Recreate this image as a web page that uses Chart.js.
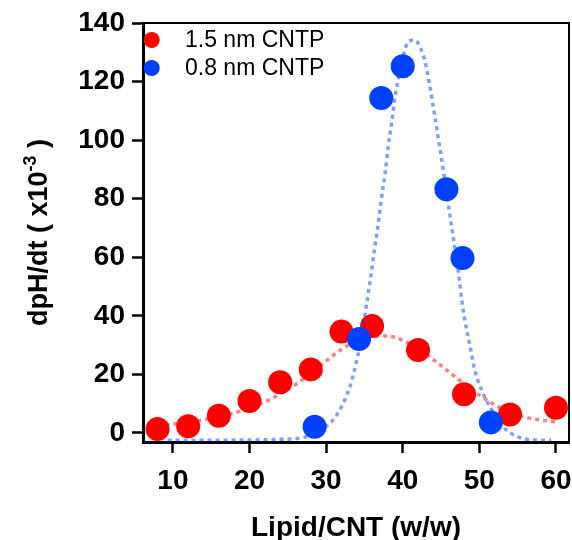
<!DOCTYPE html>
<html>
<head>
<meta charset="utf-8">
<script src="https://cdn.jsdelivr.net/npm/chart.js@4.4.1/dist/chart.umd.min.js"></script>
<style>
  html, body { margin: 0; padding: 0; background: #fff; }
</style>
</head>
<body>
<canvas id="c" width="572" height="540"></canvas>
<script>
// Axis ticks
const xTicks = [10, 20, 30, 40, 50, 60];
const yTicks = [0, 20, 40, 60, 80, 100, 120, 140];

// Series names
const seriesNames = ['1.5 nm CNTP', '0.8 nm CNTP'];

// Measured rates, 1.5 nm CNTP
const ratio15 = [8, 12, 16, 20, 24, 28, 32, 36, 42, 48, 54, 60];
const rate15  = [1.3, 2.3, 5.9, 10.9, 17.3, 21.7, 34.6, 36.5, 28.3, 13.2, 6.3, 8.6];

// Measured rates, 0.8 nm CNTP
const ratio08 = [28.5, 34.3, 37.2, 40.0, 45.7, 47.8, 51.5];
const rate08  = [2.1, 32.1, 114.4, 125.2, 83.2, 59.7, 3.6];

// Fitted curve, 1.5 nm CNTP
const fitX15 = [8, 10, 12, 14, 16, 18, 20, 22, 24, 26, 28, 30, 32, 34, 36, 38, 40, 42, 44, 46, 48, 50, 52, 54, 56, 58, 60];
const fitY15 = [2.6, 3.0, 3.6, 4.5, 5.5, 6.8, 8.4, 10.6, 13.3, 16.5, 20.3, 24.6, 28.5, 31.4, 32.9, 33.1, 31.6, 28.8, 25.0, 20.9, 16.8, 12.9, 9.6, 7.0, 5.4, 4.4, 3.8];

// Fitted curve, 0.8 nm CNTP
const fitX08 = [9.3, 15, 20, 24, 26.6, 28, 29.2, 30.7, 32.0, 33.1, 33.8, 34.5, 35.1, 35.7, 36.25, 36.8, 37.25, 37.7, 38.1, 38.55, 39.0, 39.6, 40.5, 41.0, 41.6, 42.3, 42.9, 43.5, 44.2, 44.8, 45.4, 45.9, 46.4, 47.0, 47.4, 47.7, 48.1, 48.8, 49.4, 50.3, 51.4, 53.1, 54.85, 57.0, 59.4];
const fitY08 = [-2.5, -2.5, -2.4, -2.2, -1.8, -0.8, 1.0, 3.8, 8.9, 15.8, 22.6, 31.0, 40.9, 51.1, 61.4, 71.6, 80.7, 88.7, 97.8, 105.8, 114.9, 122.9, 132.6, 134.0, 134.2, 131.5, 127.0, 119.0, 108.0, 98.0, 88.0, 79.0, 70.0, 60.0, 52.0, 45.4, 38.6, 29.4, 21.5, 14.6, 8.9, 2.1, -1.1, -2.4, -2.5];

const RED = 'rgb(255, 0, 0)';
const BLUE = 'rgb(0, 64, 255)';
const RED_FIT = 'rgba(255, 0, 0, 0.5)';
const BLUE_FIT = 'rgba(0, 64, 255, 0.5)';
const FONT = "'Liberation Sans', Arial, Helvetica, sans-serif";

const toPoints = (xs, ys) => xs.map((x, i) => ({ x: x, y: ys[i] }));

// Top and right edges of the plot frame
const framePlugin = {
  id: 'frame',
  afterDraw(chart) {
    const { ctx, chartArea: a } = chart;
    ctx.save();
    ctx.strokeStyle = '#000';
    ctx.lineWidth = 2;
    ctx.beginPath();
    ctx.moveTo(a.left, a.top);
    ctx.lineTo(a.right, a.top);
    ctx.lineTo(a.right, a.bottom);
    ctx.stroke();
    ctx.restore();
  }
};

// Legend with circular markers inside the plot
const markerLegend = {
  id: 'markerLegend',
  afterDraw(chart) {
    const { ctx } = chart;
    const items = chart.data.datasets.filter(d => d.legendRow !== undefined)
      .sort((a, b) => a.legendRow - b.legendRow);
    ctx.save();
    ctx.font = '23px ' + FONT;
    ctx.textBaseline = 'middle';
    ctx.textAlign = 'left';
    items.forEach((d, i) => {
      const cy = 40 + i * 28;
      ctx.fillStyle = d.backgroundColor;
      ctx.beginPath();
      ctx.arc(151.7, cy, 8, 0, Math.PI * 2);
      ctx.fill();
      ctx.fillStyle = '#000';
      ctx.fillText(d.label, 185, cy + 1);
    });
    ctx.restore();
  }
};

// Rotated y-axis title with a superscript exponent
const yTitle = {
  id: 'yTitle',
  afterDraw(chart) {
    const { ctx, chartArea: a } = chart;
    const main = 'bold 27px ' + FONT;
    const sup = 'bold 18px ' + FONT;
    const p1 = 'dpH/dt ( x10', p2 = '-3', p3 = ' )';
    ctx.save();
    ctx.font = main; const w1 = ctx.measureText(p1).width, w3 = ctx.measureText(p3).width;
    ctx.font = sup; const w2 = ctx.measureText(p2).width;
    const total = w1 + w2 + w3;
    ctx.translate(47, (a.top + a.bottom) / 2);
    ctx.rotate(-Math.PI / 2);
    ctx.fillStyle = '#000';
    ctx.textBaseline = 'alphabetic';
    ctx.textAlign = 'left';
    let x = -total / 2;
    ctx.font = main; ctx.fillText(p1, x, 0); x += w1;
    ctx.font = sup; ctx.fillText(p2, x, -11); x += w2;
    ctx.font = main; ctx.fillText(p3, x, 0);
    ctx.restore();
  }
};

new Chart(document.getElementById('c'), {
  type: 'scatter',
  data: {
    datasets: [
      {
        label: seriesNames[1],
        legendRow: 1,
        data: toPoints(ratio08, rate08),
        backgroundColor: BLUE,
        borderColor: BLUE,
        pointRadius: 12,
        pointHoverRadius: 12,
        borderWidth: 0,
        order: 0
      },
      {
        label: 'fit 0.8',
        data: toPoints(fitX08, fitY08),
        showLine: true,
        borderColor: BLUE_FIT,
        borderWidth: 3.5,
        borderDash: [4, 4],
        pointRadius: 0,
        cubicInterpolationMode: 'monotone',
        order: 1
      },
      {
        label: seriesNames[0],
        legendRow: 0,
        data: toPoints(ratio15, rate15),
        backgroundColor: RED,
        borderColor: RED,
        pointRadius: 12,
        pointHoverRadius: 12,
        borderWidth: 0,
        order: 2
      },
      {
        label: 'fit 1.5',
        data: toPoints(fitX15, fitY15),
        showLine: true,
        borderColor: RED_FIT,
        borderWidth: 3.5,
        borderDash: [4, 4],
        pointRadius: 0,
        cubicInterpolationMode: 'monotone',
        order: 3
      }
    ]
  },
  options: {
    responsive: false,
    devicePixelRatio: 1,
    animation: false,
    layout: { autoPadding: false, padding: { top: 23, right: 3, left: 0, bottom: 0 } },
    plugins: { legend: { display: false }, tooltip: { enabled: false } },
    scales: {
      x: {
        type: 'linear',
        min: 6.1,
        max: 61.7,
        afterBuildTicks: s => { s.ticks = xTicks.map(v => ({ value: v })); },
        afterFit: s => { s.height = 98; s.paddingLeft = 0; s.paddingRight = 0; },
        border: { display: true, color: '#000', width: 3 },
        grid: { display: true, drawOnChartArea: false, drawTicks: true, tickLength: 11, tickWidth: 2.5, color: '#000', tickColor: '#000' },
        ticks: { color: '#000', padding: 11, font: { family: FONT, size: 28, weight: 'bold' }, maxRotation: 0 },
        title: { display: true, text: 'Lipid/CNT (w/w)', color: '#000', font: { family: FONT, size: 28, weight: 'bold' }, padding: { top: 0, bottom: -5 } }
      },
      y: {
        type: 'linear',
        min: -3.1,
        max: 140,
        afterBuildTicks: s => { s.ticks = yTicks.map(v => ({ value: v })); },
        afterFit: s => { s.width = 143; s.paddingTop = 0; s.paddingBottom = 0; },
        border: { display: true, color: '#000', width: 3 },
        grid: { display: true, drawOnChartArea: false, drawTicks: true, tickLength: 11, tickWidth: 2.5, color: '#000', tickColor: '#000' },
        ticks: { color: '#000', padding: 7, font: { family: FONT, size: 28, weight: 'bold' } }
      }
    }
  },
  plugins: [framePlugin, markerLegend, yTitle]
});
</script>
</body>
</html>
